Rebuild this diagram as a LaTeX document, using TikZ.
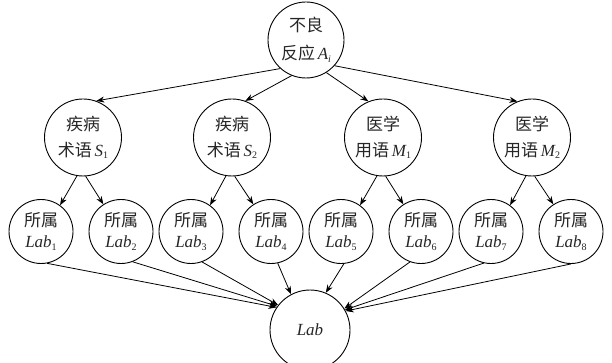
\documentclass[tikz,border=0pt]{standalone}
\usepackage{fontspec}
\setmainfont{Liberation Serif}[ItalicFont={Liberation Serif Italic},BoldFont={Liberation Serif Bold}]
\newfontfamily\cjk{Noto Sans CJK SC}
\newfontfamily\tmsi{Liberation Serif Italic}
\usetikzlibrary{arrows.meta}
\newcommand{\itx}[1]{{\tmsi #1}}
\newcommand{\subx}[1]{\raisebox{-0.15em}{\fontsize{10}{10}\selectfont #1}}
\newcommand{\lb}[1]{\itx{Lab}\subx{#1}}
\begin{document}
\begin{tikzpicture}[x=1pt,y=-1pt,
  big/.style={circle,draw,line width=0.9pt,minimum size=77pt,inner sep=0pt,align=center,text=black!85,font=\fontsize{17}{26}\selectfont},
  small/.style={circle,draw,line width=0.9pt,minimum size=64pt,inner sep=0pt,align=center,text=black!85,font=\fontsize{17}{21}\selectfont},
  arr/.style={-{Stealth[length=8pt,width=6pt,inset=2.5pt]},line width=0.8pt}]
\useasboundingbox (0,0) rectangle (612,363);
% top
\node[big,minimum size=76pt] (A) at (306,40) {{\cjk 不良}\\[2pt]{\cjk 反应}\,\itx{A}\subx{\itx{i}}};
% level 2
\node[big] (S1) at (83,137.5) {{\cjk 疾病}\\{\cjk 术语}\,\itx{S}\subx{1}};
\node[big] (S2) at (232,137.5) {{\cjk 疾病}\\{\cjk 术语}\,\itx{S}\subx{2}};
\node[big] (M1) at (383,137.5) {{\cjk 医学}\\{\cjk 用语}\,\itx{M}\subx{1}};
\node[big] (M2) at (532,137.5) {{\cjk 医学}\\{\cjk 用语}\,\itx{M}\subx{2}};
% level 3
\node[small] (L1) at (41,231.5) {{\cjk 所属}\\\lb{1}};
\node[small] (L2) at (121,231.5) {{\cjk 所属}\\\lb{2}};
\node[small] (L3) at (191,231.5) {{\cjk 所属}\\\lb{3}};
\node[small] (L4) at (271,231.5) {{\cjk 所属}\\\lb{4}};
\node[small] (L5) at (341,231.5) {{\cjk 所属}\\\lb{5}};
\node[small] (L6) at (421,231.5) {{\cjk 所属}\\\lb{6}};
\node[small] (L7) at (491,231.5) {{\cjk 所属}\\\lb{7}};
\node[small] (L8) at (571,231.5) {{\cjk 所属}\\\lb{8}};
% bottom
\node[big,minimum size=80pt] (Lab) at (310,330) {\itx{Lab}};
% level 1 arrows
\draw[arr] (A.-132) -- (S1.70);
\draw[arr] (A.-112) -- (S2.70);
\draw[arr] (A.-58) -- (M1.112);
\draw[arr] (A.-42) -- (M2.112);
% level 2 arrows
\draw[arr] (S1.-99) -- (L1.54);
\draw[arr] (S1.-86) -- (L2.123);
\draw[arr] (S2.-99) -- (L3.54);
\draw[arr] (S2.-86) -- (L4.123);
\draw[arr] (M1.-99) -- (L5.54);
\draw[arr] (M1.-86) -- (L6.123);
\draw[arr] (M2.-99) -- (L7.54);
\draw[arr] (M2.-86) -- (L8.123);
% level 3 arrows
\draw[arr] (L1.-79) -- (Lab.146);
\draw[arr] (L2.-69) -- (Lab.144);
\draw[arr] (L3.-70) -- (Lab.142);
\draw[arr] (L4.-78) -- (Lab.118);
\draw[arr] (L5.-85) -- (Lab.67);
\draw[arr] (L6.-110) -- (Lab.32);
\draw[arr] (L7.-103) -- (Lab.30);
\draw[arr] (L8.-90) -- (Lab.28);
\end{tikzpicture}
\end{document}
